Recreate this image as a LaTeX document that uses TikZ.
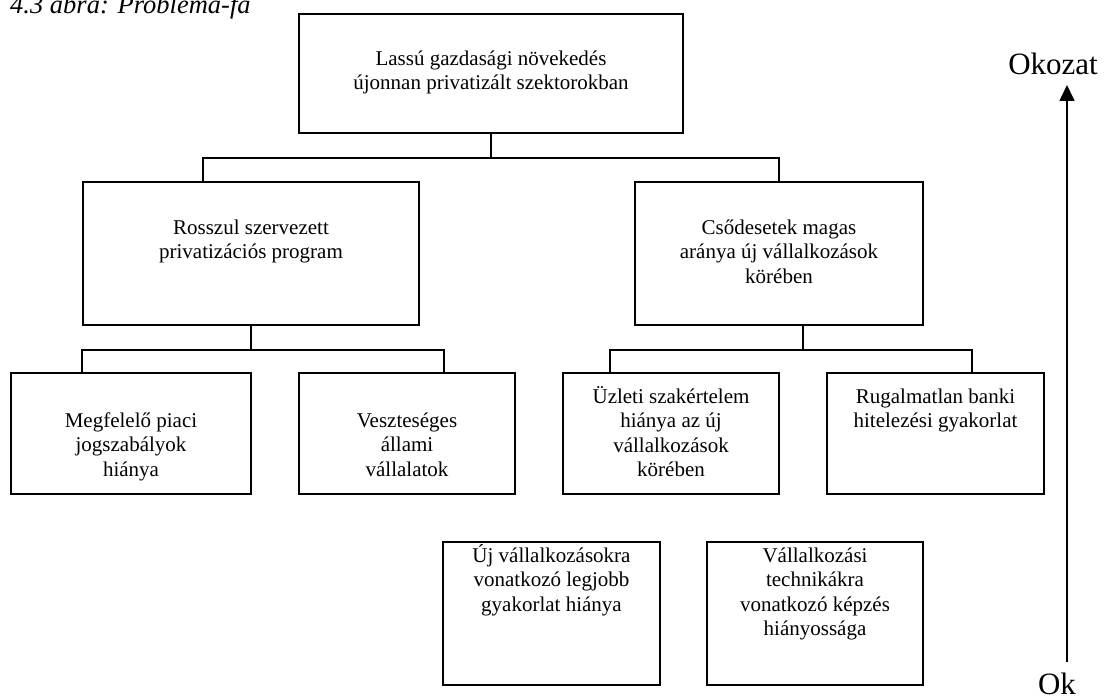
\documentclass[tikz,border=0pt]{standalone}
\usepackage{fontspec}
\setmainfont{Liberation Serif}
\usetikzlibrary{arrows.meta,positioning}

\newcommand{\topstrut}{\rule{0pt}{20pt}}

\begin{document}
\begin{tikzpicture}[x=1pt, y=-1pt,
      every node/.append style={align=center, inner sep=0pt},
      box/.style={draw, line width=2pt, anchor=north west},
      txt/.style={font=\fontsize{21pt}{24.5pt}\selectfont},
      lbl/.style={font=\fontsize{31pt}{36pt}\selectfont, anchor=base},
      conn/.style={line width=2pt}]

  \useasboundingbox (0,0) rectangle (1105,700);

  \node [anchor=base west, font=\itshape\fontsize{26.5pt}{30pt}\selectfont] (cim) at (10,14) {4.3 ábra: Probléma-fa};

  \node [box, minimum width=384pt, minimum height=119pt] (top) at (298,13) {};
  \node [box, minimum width=336pt, minimum height=143pt] (ml) at (82,181) {};
  \node [box, minimum width=288pt, minimum height=143pt] (mr) at (634,181) {};
  \node [box, minimum width=240pt, minimum height=121pt] (l1) at (10,372) {};
  \node [box, minimum width=216pt, minimum height=121pt] (l2) at (298,372) {};
  \node [box, minimum width=216pt, minimum height=121pt] (l3) at (562,372) {};
  \node [box, minimum width=217pt, minimum height=121pt] (l4) at (826,372) {};
  \node [box, minimum width=217pt, minimum height=143pt] (a1) at (442,541) {};
  \node [box, minimum width=216pt, minimum height=143pt] (a2) at (706,541) {};

  \node [txt, below=32pt of top.north] (top-t) {\topstrut Lassú gazdasági növekedés\\újonnan privatizált szektorokban};
  \node [txt, below=33pt of ml.north] (ml-t) {\topstrut Rosszul szervezett\\privatizációs program};
  \node [txt, below=33pt of mr.north] (mr-t) {\topstrut Csődesetek magas\\aránya új vállalkozások\\körében};
  \node [txt, below=35pt of l1.north] (l1-t) {\topstrut Megfelelő piaci\\jogszabályok\\hiánya};
  \node [txt, below=35pt of l2.north] (l2-t) {\topstrut Veszteséges\\állami\\vállalatok};
  \node [txt, below=11pt of l3.north] (l3-t) {\topstrut Üzleti szakértelem\\hiánya az új\\vállalkozások\\körében};
  \node [txt, below=11pt of l4.north] (l4-t) {\topstrut Rugalmatlan banki\\hitelezési gyakorlat};
  \node [txt, below=1pt of a1.north] (a1-t) {\topstrut Új vállalkozásokra\\vonatkozó legjobb\\gyakorlat hiánya};
  \node [txt, below=1pt of a2.north] (a2-t) {\topstrut Vállalkozási\\technikákra\\vonatkozó képzés\\hiányossága};

  \coordinate [below=24pt of top.south] (b0);
  \draw [conn] (top.south) -- (b0);
  \draw [conn] ([xshift=-48pt]ml.north) |- (b0) -| (mr.north);

  \coordinate [below=24pt of ml.south] (b1);
  \draw [conn] (ml.south) -- (b1);
  \draw [conn] ([xshift=72pt]l1.north west) |- (b1) -| ([xshift=-72pt]l2.north east);

  \coordinate (b2) at ([xshift=24pt,yshift=-24pt]mr.south);
  \draw [conn] ([xshift=24pt]mr.south) -- (b2);
  \draw [conn] ([xshift=48pt]l3.north west) |- (b2) -| ([xshift=-73pt]l4.north east);

  \node [lbl] (okozat) at (1053,75) {Okozat};
  \node [lbl] (ok) at (1057,694) {Ok};
  \coordinate (tail) at (1067,662);
  \coordinate (head) at (1067,85);
  \draw [-{Triangle[width=15pt,length=16pt]}, line width=1.6pt] (tail) -- (head);

\end{tikzpicture}
\end{document}
